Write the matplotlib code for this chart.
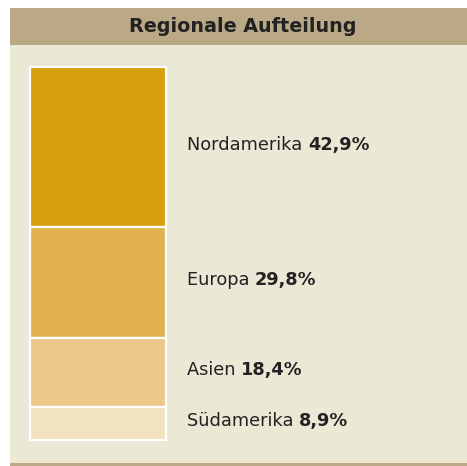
import matplotlib
matplotlib.use("Agg")
import matplotlib.pyplot as plt
from matplotlib.patches import Rectangle
from matplotlib import transforms

title = "Regionale Aufteilung"
regions = ["Nordamerika", "Europa", "Asien", "Südamerika"]
shares = [42.9, 29.8, 18.4, 8.9]
share_labels = ["42,9%", "29,8%", "18,4%", "8,9%"]
colors = ["#D5A00B", "#E2B250", "#EBC78A", "#F2E2BF"]

W, H = 467, 466
fig = plt.figure(figsize=(W / 100, H / 100), dpi=100)
fig.patch.set_facecolor("white")

def fx(px):
    return px / W

def fy(py):
    return 1 - py / H

# panel background
fig.patches.append(Rectangle((fx(10), fy(463)), 1 - fx(10), fy(45) - fy(463),
                             transform=fig.transFigure, facecolor="#ECE8D6",
                             edgecolor="none", zorder=-2))
# title band
fig.patches.append(Rectangle((fx(10), fy(45)), 1 - fx(10), fy(8) - fy(45),
                             transform=fig.transFigure, facecolor="#BBA886",
                             edgecolor="none", zorder=-2))
# bottom line
fig.patches.append(Rectangle((fx(10), 0), 1 - fx(10), fy(463),
                             transform=fig.transFigure, facecolor="#BBA886",
                             edgecolor="none", zorder=-2))
fig.text(fx(243), fy(27), title, ha="center", va="center", fontsize=13.8,
         fontweight="bold", color="#222222", family="DejaVu Sans")

x0, x1, y0, y1 = 30, 166, 67, 440
ax = fig.add_axes([fx(x0), fy(y1), fx(x1 - x0), fy(y0) - fy(y1)])
ax.set_xlim(0, 1)
ax.set_ylim(100, 0)
ax.axis("off")

bottom = 0
centers = []
for v, c in zip(shares, colors):
    ax.bar(0.5, v, width=1, bottom=bottom, color=c, edgecolor="white",
           linewidth=1.6, clip_on=False)
    centers.append(bottom + v / 2)
    bottom += v

trans = transforms.blended_transform_factory(fig.transFigure, ax.transData)
trans = transforms.offset_copy(trans, fig=fig, y=2.5, units="dots")
fig.canvas.draw()
r = fig.canvas.get_renderer()
for name, lab, cy in zip(regions, share_labels, centers):
    t = ax.text(fx(187), cy, name + " ", transform=trans, ha="left", va="center",
                fontsize=12.8, color="#222222", clip_on=False)
    bb = t.get_window_extent(renderer=r)
    ax.text(bb.x1 / W, cy, lab, transform=trans, ha="left", va="center",
            fontsize=12.8, fontweight="bold", color="#222222", clip_on=False)

fig.savefig("out.png", dpi=100)
